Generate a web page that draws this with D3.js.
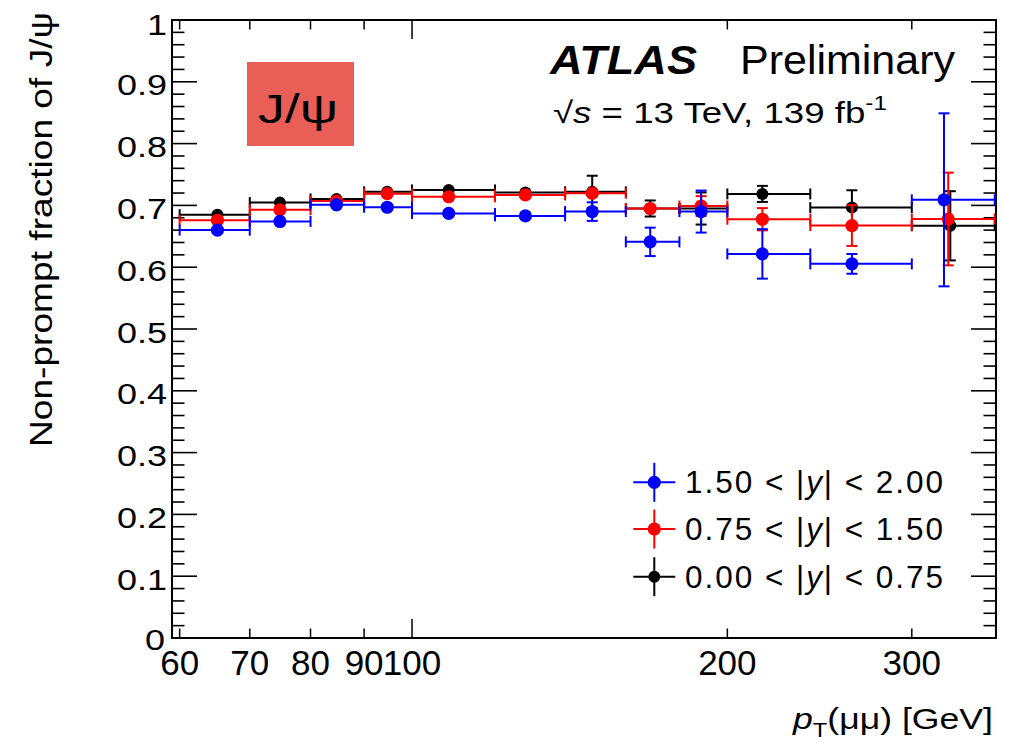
<!DOCTYPE html>
<html><head><meta charset="utf-8">
<script src="https://cdn.jsdelivr.net/npm/d3@7"></script>
<style>body{margin:0;background:#fff} svg{display:block} text{font-family:"Liberation Sans",Arial,Helvetica,sans-serif;fill:#000}</style>
</head><body><svg id="c" width="1018" height="744"></svg>
<script>
// ---- data ----
const binEdges = [60, 70, 80, 90, 100, 120, 140, 160, 180, 200, 240, 300, 360];
const xBlue  = [65.2, 74.8, 84.7, 94.7, 108.4, 128.3, 148.6, 168.8, 188.8, 216, 263, 322];
const xRed   = [65.2, 74.8, 84.7, 94.7, 108.4, 128.3, 148.6, 168.8, 188.8, 216, 263, 325];
const xBlack = [65.2, 74.8, 84.7, 94.7, 108.4, 128.3, 148.6, 168.8, 188.8, 216, 263, 326.5];
const yBlue  = [0.660, 0.674, 0.701, 0.697, 0.687, 0.683, 0.690, 0.641, 0.690, 0.6215, 0.6054, 0.709];
const eBlue  = [0.005, 0.005, 0.005, 0.006, 0.006, 0.006, 0.015, 0.023, 0.034, 0.040, 0.016, 0.140];
const yRed   = [0.676, 0.693, 0.707, 0.719, 0.714, 0.717, 0.7197, 0.695, 0.699, 0.6776, 0.6674, 0.678];
const eRed   = [0.004, 0.004, 0.004, 0.005, 0.005, 0.005, 0.008, 0.010, 0.016, 0.018, 0.033, 0.075];
const yBlack = [0.685, 0.7045, 0.7105, 0.722, 0.725, 0.721, 0.722, 0.695, 0.695, 0.7186, 0.6965, 0.667];
const eBlack = [0.004, 0.004, 0.004, 0.005, 0.005, 0.005, 0.026, 0.013, 0.026, 0.013, 0.028, 0.056];
const seriesLabels = ["1.50 < |y| < 2.00", "0.75 < |y| < 1.50", "0.00 < |y| < 0.75"];
const xTickValues = [60, 70, 80, 90, 100, 200, 300];
const xTickLabels = ["60", "70", "80", "90", "100", "200", "300"];
const xMajorTicks = [100];
const yTickValues = [0, 0.1, 0.2, 0.3, 0.4, 0.5, 0.6, 0.7, 0.8, 0.9, 1];
const yTickLabels = ["0", "0.1", "0.2", "0.3", "0.4", "0.5", "0.6", "0.7", "0.8", "0.9", "1"];

// ---- layout ----
const L = 172, R = 996, T = 20, B = 638;
const svg = d3.select("#c");
const x = d3.scaleLog().domain([59, 361]).range([L, R]);
const y = d3.scaleLinear().domain([0, 1]).range([B, T]);

const series = [
  {label: seriesLabels[2], color: "#000000", xs: xBlack, ys: yBlack, es: eBlack, r: 6.0},
  {label: seriesLabels[1], color: "#ff0000", xs: xRed, ys: yRed, es: eRed, r: 6.6},
  {label: seriesLabels[0], color: "#0000ff", xs: xBlue, ys: yBlue, es: eBlue, r: 6.6}
];

// frame ticks
const g = svg.append("g");
const minorY = d3.range(0, 1.0001, 0.02);
minorY.forEach(v => {
  const isMajor = Math.abs(v * 10 - Math.round(v * 10)) < 1e-6;
  const len = isMajor ? 25 : 12.5;
  g.append("line").attr("x1", L).attr("x2", L + len).attr("y1", y(v)).attr("y2", y(v))
    .attr("stroke", "#000").attr("stroke-width", 1.6);
  g.append("line").attr("x1", R).attr("x2", R - len).attr("y1", y(v)).attr("y2", y(v))
    .attr("stroke", "#000").attr("stroke-width", 1.6);
});
xTickValues.forEach(v => {
  const len = xMajorTicks.includes(v) ? 19 : 9.5;
  g.append("line").attr("x1", x(v)).attr("x2", x(v)).attr("y1", B).attr("y2", B - len)
    .attr("stroke", "#000").attr("stroke-width", 1.5);
  g.append("line").attr("x1", x(v)).attr("x2", x(v)).attr("y1", T).attr("y2", T + len)
    .attr("stroke", "#000").attr("stroke-width", 1.5);
});

// tick labels
yTickValues.forEach((v, i) => {
  const xr = v === 0 ? 165 : 167;
  const yo = v === 0 ? 12 : (v === 1 ? 15 : 13.5);
  g.append("text").attr("transform", `translate(${xr},${y(v) + yo}) scale(1.2,1)`)
    .attr("text-anchor", "end").attr("font-size", 30).text(yTickLabels[i]);
});
xTickValues.forEach((v, i) => {
  g.append("text").attr("x", x(v)).attr("y", 675).attr("text-anchor", "middle")
    .attr("font-size", 35).text(xTickLabels[i]);
});

// data
const cap = 5.5;
const dataG = svg.append("g");
series.forEach(s => {
  const sg = dataG.append("g").attr("stroke", s.color).attr("fill", s.color).attr("stroke-width", 2);
  s.ys.forEach((v, i) => {
    const cx = x(s.xs[i]), cy = y(v);
    const lo = x(binEdges[i]), hi = Math.min(x(binEdges[i + 1]), R - 1);
    sg.append("line").attr("x1", lo).attr("x2", hi).attr("y1", cy).attr("y2", cy);
    sg.append("line").attr("x1", lo).attr("x2", lo).attr("y1", cy - cap).attr("y2", cy + cap);
    sg.append("line").attr("x1", hi).attr("x2", hi).attr("y1", cy - cap).attr("y2", cy + cap);
    const yt = y(v + s.es[i]), yb = y(v - s.es[i]);
    if (cy - yt > s.r) {
      sg.append("line").attr("x1", cx).attr("x2", cx).attr("y1", yt).attr("y2", yb);
      sg.append("line").attr("x1", cx - cap).attr("x2", cx + cap).attr("y1", yt).attr("y2", yt);
      sg.append("line").attr("x1", cx - cap).attr("x2", cx + cap).attr("y1", yb).attr("y2", yb);
    }
    sg.append("circle").attr("cx", cx).attr("cy", cy).attr("r", s.r).attr("stroke", "none");
  });
});

// frame
svg.append("rect").attr("x", L).attr("y", T).attr("width", R - L).attr("height", B - T)
  .attr("fill", "none").attr("stroke", "#000").attr("stroke-width", 2);

// legend
const legRows = [series[2], series[1], series[0]];
const legY = [482.3, 529, 576.7];
legRows.forEach((s, i) => {
  const cy = legY[i], cx = 654.3;
  const lg = svg.append("g").attr("stroke", s.color).attr("stroke-width", 2);
  lg.append("line").attr("x1", cx - 21).attr("x2", cx + 21).attr("y1", cy).attr("y2", cy);
  lg.append("line").attr("x1", cx).attr("x2", cx).attr("y1", cy - 19.5).attr("y2", cy + 19.5);
  lg.append("circle").attr("cx", cx).attr("cy", cy).attr("r", s.r).attr("fill", s.color).attr("stroke", "none");
  const parts = s.label.split("y");
  const t = svg.append("text").attr("x", 685).attr("y", cy + 11).attr("font-size", 31.5)
    .attr("textLength", 258).attr("lengthAdjust", "spacing");
  t.append("tspan").text(parts[0]);
  t.append("tspan").attr("font-style", "italic").text("y");
  t.append("tspan").text(parts[1]);
});

// J/psi box
svg.append("rect").attr("x", 247).attr("y", 62).attr("width", 107).attr("height", 84).attr("fill", "#e95e57");
svg.append("text").attr("x", 258).attr("y", 123).attr("font-size", 40)
  .attr("textLength", 80).attr("lengthAdjust", "spacingAndGlyphs").text("J/ψ");

// ATLAS labels
svg.append("text").attr("x", 550).attr("y", 74).attr("font-size", 41).attr("font-weight", "bold")
  .attr("font-style", "italic").attr("textLength", 147).attr("lengthAdjust", "spacingAndGlyphs").text("ATLAS");
svg.append("text").attr("x", 740).attr("y", 74).attr("font-size", 41)
  .attr("textLength", 215).attr("lengthAdjust", "spacingAndGlyphs").text("Preliminary");
const en = svg.append("text").attr("x", 553).attr("y", 122.7).attr("font-size", 30)
  .attr("textLength", 334).attr("lengthAdjust", "spacingAndGlyphs");
en.append("tspan").text("√");
en.append("tspan").attr("font-style", "italic").text("s");
en.append("tspan").text(" = 13 TeV, 139 fb");
en.append("tspan").attr("font-size", 20).attr("dy", -13).text("-1");

// axis titles
svg.append("text").attr("transform", "translate(52,447) rotate(-90)").attr("font-size", 31)
  .attr("textLength", 435).attr("lengthAdjust", "spacingAndGlyphs").text("Non-prompt fraction of J/ψ");
const xt = svg.append("text").attr("x", 793).attr("y", 729).attr("font-size", 30)
  .attr("textLength", 200).attr("lengthAdjust", "spacingAndGlyphs");
xt.append("tspan").attr("font-style", "italic").text("p");
xt.append("tspan").attr("font-size", 20).attr("dy", 8).text("T");
xt.append("tspan").attr("dy", -8).text("(μμ) [GeV]");
</script></body></html>
